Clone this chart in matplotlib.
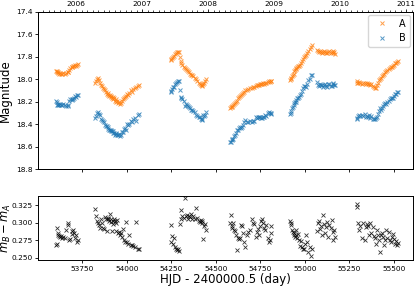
import numpy as np
import matplotlib
matplotlib.use('Agg')
import matplotlib.pyplot as plt
from matplotlib.ticker import MultipleLocator

# observing epochs (HJD - 2400000.5), image A magnitude, and m_B - m_A, per season
mjd_05 = [53602, 53604, 53608, 53611, 53615, 53620, 53625, 53630, 53636, 53642, 53650, 53658,
          53666, 53669, 53676, 53682, 53690, 53693, 53697, 53702, 53707, 53712, 53718, 53722]
magA_05 = [17.925, 17.93, 17.935, 17.94, 17.945, 17.95, 17.945, 17.95, 17.95, 17.945, 17.95, 17.945,
           17.94, 17.935, 17.92, 17.90, 17.89, 17.895, 17.885, 17.88, 17.875, 17.88, 17.87, 17.865]
dmag_05 = [0.268, 0.270, 0.293, 0.285, 0.282, 0.281, 0.280, 0.281, 0.279, 0.280, 0.279, 0.290,
           0.297, 0.299, 0.276, 0.277, 0.284, 0.288, 0.289, 0.286, 0.279, 0.282, 0.273, 0.275]

mjd_06 = [53818, 53824, 53830, 53836, 53840, 53846, 53852, 53858, 53864, 53870, 53876, 53882,
          53888, 53892, 53896, 53900, 53904, 53908, 53912, 53916, 53920, 53924, 53928, 53932,
          53936, 53940, 53944, 53950, 53956, 53960, 53966, 53972, 53978, 53984, 53990, 53996,
          54002, 54008, 54014, 54020, 54028, 54036, 54045, 54052, 54062, 54070]
magA_06 = [18.03, 18.02, 18.00, 17.99, 18.01, 18.03, 18.05, 18.06, 18.08, 18.09, 18.10, 18.11,
           18.13, 18.12, 18.14, 18.15, 18.14, 18.16, 18.15, 18.17, 18.16, 18.18, 18.17, 18.19,
           18.18, 18.20, 18.19, 18.21, 18.20, 18.22, 18.21, 18.19, 18.18, 18.17, 18.16, 18.15,
           18.13, 18.14, 18.12, 18.10, 18.11, 18.09, 18.08, 18.07, 18.06, 18.05]
dmag_06 = [0.319, 0.310, 0.302, 0.300, 0.297, 0.293, 0.306, 0.299, 0.293, 0.291, 0.308, 0.305,
           0.288, 0.307, 0.306, 0.303, 0.312, 0.301, 0.305, 0.288, 0.302, 0.298, 0.306, 0.303,
           0.300, 0.288, 0.304, 0.286, 0.287, 0.283, 0.285, 0.280, 0.291, 0.276, 0.273, 0.301,
           0.272, 0.270, 0.283, 0.269, 0.268, 0.267, 0.266, 0.301, 0.263, 0.262]

mjd_07 = [54245, 54249, 54255, 54260, 54266, 54272, 54278, 54282, 54286, 54290, 54296, 54302,
          54306, 54312, 54318, 54324, 54330, 54336, 54342, 54348, 54354, 54360, 54366, 54372,
          54380, 54389, 54396, 54402, 54408, 54414, 54420, 54424, 54427, 54432, 54440, 54446]
magA_07 = [17.83, 17.82, 17.81, 17.80, 17.79, 17.78, 17.77, 17.76, 17.755, 17.76, 17.80, 17.84,
           17.86, 17.87, 17.89, 17.90, 17.91, 17.92, 17.93, 17.94, 17.95, 17.96, 17.965, 17.97,
           17.99, 18.00, 18.02, 18.03, 18.04, 18.05, 18.06, 18.05, 18.04, 18.03, 18.02, 18.00]
dmag_07 = [0.273, 0.297, 0.281, 0.270, 0.279, 0.265, 0.262, 0.261, 0.263, 0.260, 0.298, 0.318,
           0.305, 0.309, 0.307, 0.335, 0.310, 0.311, 0.306, 0.310, 0.308, 0.312, 0.305, 0.309,
           0.306, 0.321, 0.307, 0.303, 0.301, 0.304, 0.300, 0.302, 0.277, 0.295, 0.298, 0.290]

mjd_08 = [54580, 54584, 54588, 54592, 54597, 54602, 54607, 54612, 54618, 54624, 54630, 54636,
          54642, 54648, 54654, 54660, 54666, 54674, 54682, 54690, 54700, 54708, 54716, 54724,
          54730, 54736, 54742, 54748, 54754, 54760, 54766, 54772, 54778, 54784, 54790, 54796,
          54802, 54808, 54812]
magA_08 = [18.26, 18.25, 18.245, 18.24, 18.23, 18.22, 18.21, 18.20, 18.19, 18.17, 18.16, 18.15,
           18.14, 18.13, 18.12, 18.11, 18.10, 18.10, 18.09, 18.08, 18.075, 18.07, 18.07, 18.06,
           18.055, 18.05, 18.05, 18.045, 18.04, 18.04, 18.035, 18.04, 18.03, 18.03, 18.025, 18.02,
           18.025, 18.02, 18.015]
dmag_08 = [0.299, 0.311, 0.296, 0.293, 0.299, 0.290, 0.288, 0.282, 0.261, 0.279, 0.277, 0.278,
           0.297, 0.295, 0.285, 0.272, 0.265, 0.282, 0.287, 0.290, 0.305, 0.300, 0.298, 0.280,
           0.287, 0.291, 0.283, 0.296, 0.302, 0.305, 0.300, 0.293, 0.289, 0.297, 0.279, 0.272,
           0.276, 0.285, 0.295]

mjd_09 = [54916, 54920, 54924, 54928, 54932, 54936, 54940, 54944, 54948, 54952, 54956, 54960,
          54966, 54972, 54978, 54984, 54990, 54996, 55002, 55008, 55014, 55020, 55026, 55032,
          55038, 55066, 55072, 55078, 55084, 55090, 55096, 55102, 55108, 55114, 55120, 55126,
          55132, 55138, 55144, 55150, 55156, 55160, 55164, 55168]
magA_09 = [18.01, 18.00, 17.99, 17.97, 17.96, 17.95, 17.93, 17.92, 17.91, 17.90, 17.89, 17.885,
           17.88, 17.875, 17.86, 17.84, 17.82, 17.80, 17.79, 17.785, 17.77, 17.75, 17.73, 17.71,
           17.70, 17.74, 17.75, 17.76, 17.75, 17.76, 17.77, 17.76, 17.75, 17.76, 17.765, 17.77,
           17.76, 17.75, 17.77, 17.76, 17.75, 17.77, 17.76, 17.775]
dmag_09 = [0.303, 0.299, 0.297, 0.290, 0.287, 0.283, 0.285, 0.280, 0.289, 0.282, 0.278, 0.284,
           0.276, 0.267, 0.274, 0.265, 0.263, 0.262, 0.270, 0.283, 0.272, 0.258, 0.266, 0.253,
           0.262, 0.288, 0.300, 0.302, 0.291, 0.296, 0.283, 0.311, 0.298, 0.286, 0.294, 0.301,
           0.280, 0.297, 0.292, 0.304, 0.287, 0.276, 0.290, 0.280]

mjd_10 = [55290, 55294, 55300, 55306, 55312, 55320, 55328, 55336, 55344, 55350, 55356, 55362,
          55368, 55374, 55380, 55386, 55392, 55398, 55404, 55410, 55416, 55422, 55428, 55434,
          55440, 55446, 55452, 55458, 55464, 55470, 55476, 55482, 55488, 55494, 55500, 55506,
          55512, 55518, 55524]
magA_10 = [18.03, 18.02, 18.03, 18.025, 18.03, 18.04, 18.03, 18.035, 18.04, 18.03, 18.045, 18.04,
           18.05, 18.045, 18.06, 18.07, 18.08, 18.075, 18.05, 18.03, 18.01, 18.00, 17.99, 17.97,
           17.96, 17.95, 17.94, 17.93, 17.92, 17.91, 17.90, 17.895, 17.89, 17.88, 17.87, 17.86,
           17.855, 17.85, 17.84]
dmag_10 = [0.326, 0.322, 0.300, 0.290, 0.296, 0.279, 0.299, 0.276, 0.294, 0.298, 0.296, 0.282,
           0.300, 0.285, 0.294, 0.281, 0.278, 0.270, 0.289, 0.282, 0.276, 0.259, 0.283, 0.285,
           0.280, 0.268, 0.275, 0.289, 0.279, 0.287, 0.275, 0.272, 0.280, 0.284, 0.277, 0.270,
           0.274, 0.268, 0.271]

mjd = np.array(mjd_05 + mjd_06 + mjd_07 + mjd_08 + mjd_09 + mjd_10, dtype=float)
magA = np.array(magA_05 + magA_06 + magA_07 + magA_08 + magA_09 + magA_10)
dmag = np.array(dmag_05 + dmag_06 + dmag_07 + dmag_08 + dmag_09 + dmag_10)
magB = magA + dmag

years = [2006, 2007, 2008, 2009, 2010, 2011]

# ---- figure
fig = plt.figure(figsize=(4.15, 2.87), dpi=100)
ax0 = fig.add_axes([0.0916, 0.411, 0.9034, 0.548])
ax1 = fig.add_axes([0.0916, 0.094, 0.9034, 0.223])

ax0.plot(mjd, magA, 'x', color='tab:orange', ms=3.3, mew=0.7, alpha=0.75, label='A')
ax0.plot(mjd, magB, 'x', color='tab:blue', ms=3.3, mew=0.7, alpha=0.75, label='B')
ax0.set_xlim(53500, 55607)
ax0.set_ylim(18.8, 17.4)
ax0.set_yticks(np.arange(17.4, 18.81, 0.2))
ax0.set_xticks(np.arange(53750, 55501, 250))
ax0.set_xticklabels([])
ax0.set_ylabel('Magnitude', fontsize=8.5, labelpad=3)
ax0.tick_params(labelsize=5.3, length=2.5, width=0.6, pad=1.5)
ax0.legend(loc='upper right', fontsize=7, numpoints=1, handletextpad=0.8,
           borderaxespad=0.3, framealpha=0.8)

# years on top
axt = ax0.twiny()
axt.set_xlim(2005.42, 2011.1)
axt.set_xticks(years)
axt.set_xticklabels([str(y) for y in years])
axt.xaxis.set_minor_locator(MultipleLocator(1 / 12))
axt.tick_params(labelsize=5.3, length=2.5, width=0.6, pad=1)
axt.tick_params(which='minor', length=1.3, width=0.5)

ax1.plot(mjd, dmag, 'x', color='black', ms=2.8, mew=0.6, alpha=0.8)
ax1.set_xlim(53500, 55607)
ax1.set_ylim(0.247, 0.338)
ax1.set_yticks([0.25, 0.275, 0.3, 0.325])
ax1.set_xticks(np.arange(53750, 55501, 250))
ax1.set_ylabel('$m_B - m_A$', fontsize=8.3)
ax1.yaxis.set_label_coords(-0.066, 0.5)
ax1.set_xlabel('HJD - 2400000.5 (day)', fontsize=8.5, labelpad=1)
ax1.tick_params(labelsize=5.3, length=2.5, width=0.6, pad=1.5)

for a in (ax0, ax1, axt):
    for s in a.spines.values():
        s.set_linewidth(0.7)

fig.savefig('out.png', dpi=100)
